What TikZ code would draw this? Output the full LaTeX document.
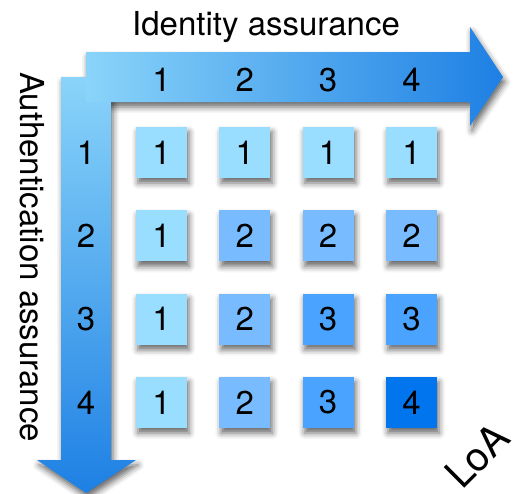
\documentclass[tikz,border=0pt]{standalone}
\usepackage{fontspec}
\setmainfont{TeX Gyre Heros}
\usetikzlibrary{shadows.blur}

% assurance levels, light to dark
\definecolor{lv1}{RGB}{153,221,255}
\definecolor{lv2}{RGB}{120,188,255}
\definecolor{lv3}{RGB}{74,164,255}
\definecolor{lv4}{RGB}{0,117,238}
% axis arrow gradient ends
\definecolor{arrLight}{RGB}{138,212,250}
\definecolor{arrDark}{RGB}{30,128,228}

\begin{document}
\begin{tikzpicture}[x=1pt,y=-1pt,
  softshadow/.style={blur shadow={shadow xshift=2pt, shadow yshift=-5pt,
      shadow blur radius=6pt, shadow opacity=60}},
  bigtext/.style={inner sep=0pt, font=\fontsize{33}{33}\selectfont},
  cell/.style={bigtext, minimum size=51pt, softshadow},
  axisnum/.style={bigtext}]
\useasboundingbox (0,0) rectangle (513,493);

% axis arrows: shadows first, so neither arrow shades the other
\def\vertarrow{(61,77) -- (111,77) -- (111,460) -- (136,460) -- (86,493)
  -- (37,460) -- (61,460) -- cycle}
\def\horarrow{(86,52) -- (470,52) -- (470,27) -- (503,77) -- (470,126)
  -- (470,102) -- (86,102) -- cycle}
\path[softshadow] \vertarrow;
\path[softshadow] \horarrow;
\path[top color=arrLight, bottom color=arrDark] \vertarrow;
\path[left color=arrLight, right color=arrDark] \horarrow;

% axis titles
\node[bigtext, anchor=base west] (idtitle) at (132,35) {Identity assurance};
\node[bigtext, anchor=base west, rotate=-90] (authtitle) at (20,72)
  {Authentication assurance};
\node[inner sep=0pt, font=\fontsize{40}{40}\selectfont, anchor=base west,
  rotate=45] (loa) at (462,491) {LoA};

% level numbers on the arrows
\foreach \k in {1,...,4} {
  \node[axisnum] (col\k) at ({161.5+83.33*(\k-1)},80) {\k};
  \node[axisnum] (row\k) at (86,{152.5+83.33*(\k-1)}) {\k};
}

% resulting level of assurance: the lower of the two
\foreach \r in {1,...,4} {
  \foreach \c in {1,...,4} {
    \pgfmathtruncatemacro\v{min(\r,\c)}
    \node[cell, fill=lv\v] (cell\r\c)
      at ({161.5+83.33*(\c-1)},{152.5+83.33*(\r-1)}) {\v};
  }
}
\end{tikzpicture}
\end{document}
